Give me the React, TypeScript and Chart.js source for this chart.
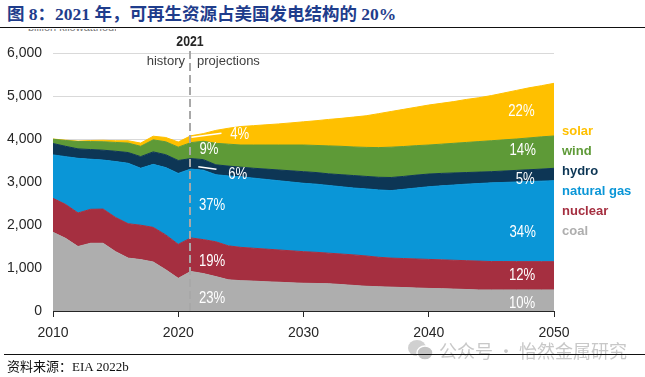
import React, { useEffect, useRef } from "react";
import { Chart, registerables } from "chart.js";

Chart.register(...registerables);

// ---------- data (billion kWh) ----------
const years = [
  2010, 2011, 2012, 2013, 2014, 2015, 2016, 2017, 2018, 2019, 2020,
  2021, 2022, 2023, 2024, 2025, 2026, 2027, 2028, 2029, 2030,
  2031, 2032, 2033, 2034, 2035, 2036, 2037, 2038, 2039, 2040,
  2041, 2042, 2043, 2044, 2045, 2046, 2047, 2048, 2049, 2050,
];
const coal = [
  1830, 1690, 1500, 1575, 1575, 1380, 1230, 1195, 1140, 960, 760,
  920, 870, 800, 725, 705, 695, 680, 670, 655, 645,
  640, 635, 615, 595, 575, 565, 555, 545, 535, 525,
  520, 510, 500, 490, 490, 490, 490, 490, 490, 490,
];
const nuclear = [
  790, 790, 780, 790, 795, 795, 800, 800, 805, 810, 790,
  780, 790, 810, 790, 775, 765, 760, 750, 745, 735,
  725, 710, 710, 710, 705, 685, 675, 675, 675, 675,
  670, 670, 670, 670, 660, 660, 658, 658, 657, 657,
];
const naturalGas = [
  1010, 1110, 1270, 1165, 1140, 1300, 1405, 1325, 1465, 1565, 1650,
  1600, 1615, 1560, 1625, 1640, 1630, 1620, 1610, 1600, 1590,
  1585, 1575, 1565, 1555, 1560, 1565, 1570, 1610, 1650, 1690,
  1720, 1750, 1780, 1805, 1830, 1840, 1852, 1862, 1873, 1883,
];
const hydro = [
  265, 240, 220, 225, 230, 240, 250, 270, 290, 300, 300,
  245, 245, 230, 230, 225, 230, 240, 250, 260, 270,
  270, 270, 280, 290, 290, 295, 305, 300, 300, 295,
  290, 280, 270, 265, 260, 265, 270, 275, 280, 288,
];
const wind = [
  100, 135, 170, 185, 195, 205, 220, 240, 280, 300, 310,
  370, 428, 500, 510, 515, 540, 560, 580, 600, 620,
  630, 650, 660, 665, 675, 690, 705, 695, 685, 675,
  680, 690, 700, 710, 720, 725, 730, 740, 750, 752,
];
const solar = [
  5, 8, 12, 25, 35, 40, 55, 75, 85, 100, 120,
  160, 177, 300, 370, 430, 450, 470, 490, 515, 540,
  575, 615, 650, 695, 735, 790, 830, 865, 895, 930,
  950, 970, 1000, 1020, 1050, 1090, 1130, 1165, 1190, 1225,
];

const seriesNames = ["coal", "nuclear", "natural gas", "hydro", "wind", "solar"];
const seriesValues = [coal, nuclear, naturalGas, hydro, wind, solar];
const seriesColors = ["#AEAEAE", "#A52F40", "#0A96D7", "#0D3655", "#5E9A37", "#FFC000"];
const legendColors = ["#AEAEAE", "#A52F40", "#0A96D7", "#0D3655", "#5E9A37", "#FFC000"];

const yTickStep = 1000;
const yMax = 6000;
const xTickStep = 10;
const dividerYear = 2021;

// share labels: [text, year, value]
const shareLabels: [string, number, number][] = [
  ["4%", 2024.9, 4095],
  ["9%", 2022.45, 3765],
  ["6%", 2024.75, 3165],
  ["37%", 2022.7, 2440],
  ["19%", 2022.7, 1140],
  ["23%", 2022.7, 280],
  ["22%", 2047.4, 4630],
  ["14%", 2047.5, 3720],
  ["5%", 2047.7, 3045],
  ["34%", 2047.5, 1815],
  ["12%", 2047.45, 815],
  ["10%", 2047.45, 165],
];
// leader lines: [year1, value1, year2, value2]
const leaderLines: [number, number, number, number][] = [
  [2021.05, 4040, 2023.45, 4135],
  [2021.6, 3355, 2023.05, 3295],
];

const FONT = '"Liberation Sans", Arial, sans-serif';
const NARROW_SCALE = 0.82;

function narrowText(ctx: any, text: string, px: number, py: number) {
  ctx.save();
  ctx.translate(px, py);
  ctx.scale(NARROW_SCALE, 1);
  ctx.fillText(text, 0, 0);
  ctx.restore();
}

const annotPlugin = {
  id: "annot",
  afterDatasetsDraw(chart: any) {
    const { ctx, chartArea, scales } = chart;
    const x = scales.x;
    const y = scales.y;
    ctx.save();
    // divider
    const dx = Math.round(x.getPixelForValue(dividerYear)) - 1;
    ctx.strokeStyle = "#A8A8A8";
    ctx.lineWidth = 2;
    ctx.setLineDash([8, 4]);
    ctx.beginPath();
    ctx.moveTo(dx, chartArea.top - 2);
    ctx.lineTo(dx, chartArea.bottom);
    ctx.stroke();
    ctx.setLineDash([]);

    // 2021 / history / projections
    ctx.fillStyle = "#262626";
    ctx.font = `bold 15px ${FONT}`;
    ctx.textAlign = "center";
    ctx.textBaseline = "middle";
    narrowText(ctx, String(dividerYear), dx, chartArea.top - 11);
    ctx.font = `13px ${FONT}`;
    ctx.fillStyle = "#404040";
    ctx.textAlign = "right";
    ctx.fillText("history", dx - 5, chartArea.top + 8);
    ctx.textAlign = "left";
    ctx.fillText("projections", dx + 7, chartArea.top + 8);

    // leader lines
    ctx.strokeStyle = "#FFFFFF";
    ctx.lineWidth = 1.5;
    leaderLines.forEach(([x1, v1, x2, v2]) => {
      ctx.beginPath();
      ctx.moveTo(x.getPixelForValue(x1), y.getPixelForValue(v1));
      ctx.lineTo(x.getPixelForValue(x2), y.getPixelForValue(v2));
      ctx.stroke();
    });

    // share labels
    ctx.fillStyle = "#FFFFFF";
    ctx.font = `16px ${FONT}`;
    ctx.textAlign = "center";
    ctx.textBaseline = "middle";
    shareLabels.forEach(([t, yr, v]) => {
      narrowText(ctx, t, x.getPixelForValue(yr), y.getPixelForValue(v));
    });

    // legend (top to bottom: solar ... coal)
    ctx.font = `bold 13px ${FONT}`;
    ctx.textAlign = "left";
    const lx = chartArea.right + 8;
    const ly0 = chartArea.top + 78;
    for (let k = 0; k < seriesNames.length; k++) {
      const i = seriesNames.length - 1 - k;
      ctx.fillStyle = legendColors[i];
      ctx.fillText(seriesNames[i], lx, ly0 + k * 20);
    }
    ctx.restore();
  },
};

export default function App() {
  const ref = useRef<HTMLCanvasElement | null>(null);

  useEffect(() => {
    if (!ref.current) return;
    const datasets = seriesValues.map((vals, i) => ({
      label: seriesNames[i],
      data: years.map((yr, j) => ({ x: yr, y: vals[j] })),
      backgroundColor: seriesColors[i],
      borderColor: seriesColors[i],
      borderWidth: 1,
      pointRadius: 0,
      tension: 0,
      fill: i === 0 ? "origin" : "-1",
    }));
    const chart = new Chart(ref.current, {
      type: "line",
      data: { datasets },
      plugins: [annotPlugin],
      options: {
        animation: false,
        responsive: false,
        layout: { padding: { left: 0, top: 53, right: 91, bottom: 0 } },
        plugins: { legend: { display: false }, tooltip: { enabled: false } },
        scales: {
          x: {
            type: "linear",
            min: years[0],
            max: years[years.length - 1],
            afterFit: (s: any) => {
              s.height = 66;
            },
            ticks: {
              stepSize: xTickStep,
              callback: (v: any) => String(v),
              font: { size: 14, family: FONT },
              color: "#262626",
              padding: 8,
              maxRotation: 0,
            },
            grid: {
              drawOnChartArea: false,
              drawTicks: true,
              tickLength: 6,
              tickColor: "#262626",
              tickWidth: 1,
            },
            border: { display: true, color: "#262626", width: 1 },
          },
          y: {
            stacked: true,
            min: 0,
            max: yMax,
            afterFit: (s: any) => {
              s.width = 53;
            },
            ticks: {
              stepSize: yTickStep,
              callback: (v: any) => Number(v).toLocaleString("en-US"),
              font: { size: 14, family: FONT },
              color: "#262626",
              padding: 11,
            },
            grid: { color: "#D9D9D9", lineWidth: 1, drawTicks: false },
            border: { display: false },
          },
        },
      },
    });
    return () => chart.destroy();
  }, []);

  return (
    <div style={{ position: "absolute", left: 0, top: 0, width: 645, height: 377, background: "#fff", overflow: "hidden" }}>
      <div
        style={{
          position: "absolute",
          left: 7,
          top: 4,
          fontFamily: '"Liberation Serif", "Noto Sans CJK SC", serif',
          fontWeight: "bold",
          fontSize: 17.5,
          color: "#1F3D8C",
          whiteSpace: "nowrap",
          lineHeight: "21px",
        }}
      >
        图 8：2021 年，可再生资源占美国发电结构的 20%
      </div>
      <div style={{ position: "absolute", left: 0, top: 27, width: 645, height: 1, background: "#111" }} />
      <div style={{ position: "absolute", left: 28, top: 29, width: 88, height: 4, overflow: "hidden" }}>
        <div style={{ position: "absolute", left: 0, bottom: 0, fontFamily: FONT, fontSize: 11, color: "#777", whiteSpace: "nowrap", lineHeight: "11px" }}>
          billion kilowatthours
        </div>
      </div>
      <canvas ref={ref} width={645} height={377} style={{ position: "absolute", left: 0, top: 0, width: 645, height: 377 }} />
      <div style={{ position: "absolute", left: 407, top: 339, display: "flex", alignItems: "center", color: "#C8C8C8", fontFamily: '"Noto Sans CJK SC", sans-serif', fontSize: 18, whiteSpace: "nowrap", lineHeight: "20px" }}>
        <svg width="28" height="22" viewBox="0 0 28 22" style={{ marginRight: 4 }}>
          <ellipse cx="10" cy="9" rx="9" ry="8" fill="#D0D0D0" />
          <ellipse cx="18" cy="14" rx="8" ry="7" fill="#C4C4C4" stroke="#fff" strokeWidth="1.5" />
        </svg>
        公众号 · 怡然金属研究
      </div>
      <div style={{ position: "absolute", left: 4, top: 354, width: 641, height: 1, background: "#111" }} />
      <div style={{ position: "absolute", left: 7, top: 358, fontFamily: '"Liberation Serif", "Noto Sans CJK SC", serif', fontSize: 13, color: "#111", whiteSpace: "nowrap", lineHeight: "18px" }}>
        资料来源：EIA 2022b
      </div>
    </div>
  );
}
